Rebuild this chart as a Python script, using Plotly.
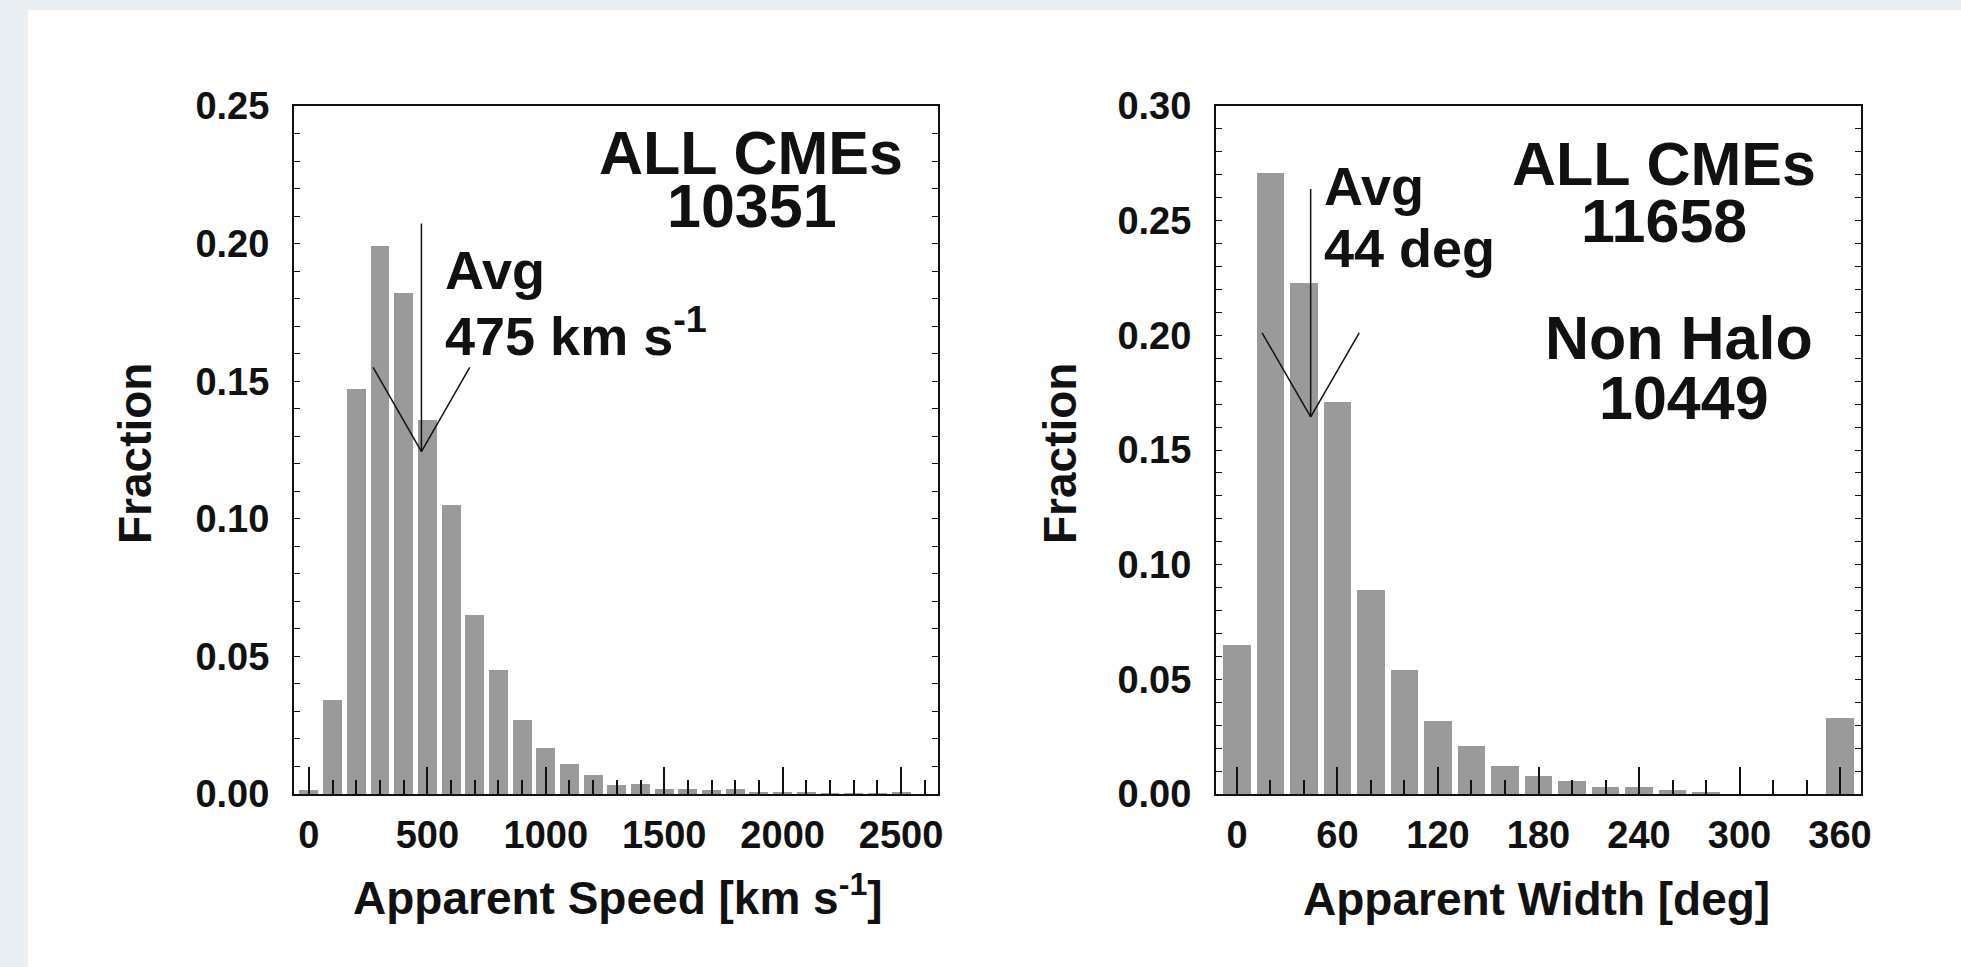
import plotly.graph_objects as go

W, H = 1961, 967

# ---------------- data ----------------
speed_bins = [0, 100, 200, 300, 400, 500, 600, 700, 800, 900, 1000, 1100, 1200,
              1300, 1400, 1500, 1600, 1700, 1800, 1900, 2000, 2100, 2200, 2300,
              2400, 2500]
speed_frac = [0.0015, 0.034, 0.147, 0.199, 0.182, 0.136, 0.105, 0.065, 0.045,
              0.027, 0.0168, 0.011, 0.007, 0.0032, 0.0038, 0.0018, 0.0018,
              0.0015, 0.0018, 0.0005, 0.0008, 0.0005, 0.0002, 0.0001, 0.0001,
              0.0005]

width_bins = [0, 20, 40, 60, 80, 100, 120, 140, 160, 180, 200, 220, 240, 260,
              280, 300, 320, 340, 360]
width_frac = [0.065, 0.271, 0.223, 0.171, 0.089, 0.054, 0.032, 0.021, 0.012,
              0.008, 0.0055, 0.003, 0.003, 0.0017, 0.001, 0.0, 0.0, 0.0, 0.033]

speed_ticks = [0, 500, 1000, 1500, 2000, 2500]
width_ticks = [0, 60, 120, 180, 240, 300, 360]

avg_speed = 475
avg_width = 44
# arrow marker geometry (data units): top of stem, tip, arm top, arm half-span
speed_arrow = dict(top=0.2073, tip=0.1244, arm=0.155, half=204)
width_arrow = dict(top=0.2638, tip=0.1644, arm=0.2011, half=29)

BAR = "#9a9a9a"
INK = "#111111"
FONT = "Liberation Sans, Arial, Helvetica, sans-serif"


def px(x):
    return x / W


def py(y):
    return 1 - y / H


fig = go.Figure()
fig.add_trace(go.Bar(x=speed_bins, y=speed_frac, width=80, marker_color=BAR,
                     marker_line_width=0, xaxis="x", yaxis="y", showlegend=False))
fig.add_trace(go.Bar(x=width_bins, y=width_frac, width=16.5, marker_color=BAR,
                     marker_line_width=0, xaxis="x2", yaxis="y2", showlegend=False))

tickfont = dict(family=FONT, size=38, color=INK, weight="bold")
ydom = [py(794), py(106)]


def xax(domain, rng, tickvals, minor_dtick, anchor):
    return dict(domain=domain, range=rng, tickvals=tickvals, ticks="inside",
                ticklen=27, tickwidth=1.6, tickcolor=INK,
                minor=dict(dtick=minor_dtick, tick0=0, ticks="inside", ticklen=14,
                           tickwidth=1.6, tickcolor=INK, showgrid=False),
                showline=True, linewidth=2, linecolor=INK, mirror=True,
                showgrid=False, zeroline=False, tickfont=tickfont,
                ticklabelstandoff=6, anchor=anchor, fixedrange=True,
                automargin=False)


def yax(rng, anchor):
    return dict(domain=ydom, range=rng, dtick=0.05, tick0=0, tickformat=".2f",
                ticks="inside", ticklen=6, tickwidth=1.4, tickcolor=INK,
                minor=dict(dtick=0.01, tick0=0, ticks="inside", ticklen=6,
                           tickwidth=1.4, tickcolor=INK, showgrid=False),
                showline=True, linewidth=2, linecolor=INK, mirror="allticks",
                showgrid=False, zeroline=False, tickfont=tickfont,
                ticklabelstandoff=15, anchor=anchor, fixedrange=True,
                automargin=False)


fig.update_layout(
    width=W, height=H, autosize=False,
    margin=dict(l=0, r=0, t=0, b=0, pad=0, autoexpand=False),
    paper_bgcolor="#e8eef1", plot_bgcolor="white",
    xaxis=xax([px(294), px(938)], [-63, 2656], speed_ticks, 100, "y"),
    yaxis=yax([0, 0.25], "x"),
    xaxis2=xax([px(1216), px(1861)], [-12.5, 372.5], width_ticks, 20, "y2"),
    yaxis2=yax([0, 0.30], "x2"),
    bargap=0,
)

shapes = [dict(type="rect", xref="paper", yref="paper", x0=px(28), x1=1.01,
               y0=-0.01, y1=py(10), fillcolor="white", line_width=0, layer="below")]


def arrow(xr, yr, avg, a):
    lw = dict(color=INK, width=1.5)
    return [
        dict(type="line", xref=xr, yref=yr, x0=avg, x1=avg, y0=a["top"], y1=a["tip"], line=lw),
        dict(type="line", xref=xr, yref=yr, x0=avg - a["half"], x1=avg, y0=a["arm"], y1=a["tip"], line=lw),
        dict(type="line", xref=xr, yref=yr, x0=avg + a["half"], x1=avg, y0=a["arm"], y1=a["tip"], line=lw),
    ]


shapes += arrow("x", "y", avg_speed, speed_arrow)
shapes += arrow("x2", "y2", avg_width, width_arrow)
fig.update_layout(shapes=shapes)

annots = []


def txt(s, x, y, size, xanchor="center", angle=0):
    annots.append(dict(text=s, x=px(x), y=py(y), xref="paper", yref="paper",
                       xanchor=xanchor, yanchor="middle", showarrow=False,
                       textangle=angle,
                       font=dict(family=FONT, size=size, color=INK, weight="bold")))


# left panel
txt("ALL CMEs", 751, 153, 61)
txt("10351", 752, 206, 61)
txt("Avg", 443, 270.5, 54, "left")
txt(f"{avg_speed} km s<sup>-1</sup>", 443, 332, 54, "left")
# right panel
txt("ALL CMEs", 1664, 163.8, 61)
txt("11658", 1664, 221, 61)
txt("Non Halo", 1679, 337.5, 61)
txt("10449", 1684, 397.5, 61)
txt("Avg", 1321.7, 185.5, 54, "left")
txt(f"{avg_width} deg", 1321.7, 247.5, 54, "left")
# axis titles
txt("Apparent Speed [km s<sup>-1</sup>]", 618, 895, 46)
txt("Apparent Width [deg]", 1536, 899, 46)
txt("Fraction", 135, 454, 46, angle=-90)
txt("Fraction", 1060, 454, 46, angle=-90)

fig.update_layout(annotations=annots)
fig.write_html("out.html")
